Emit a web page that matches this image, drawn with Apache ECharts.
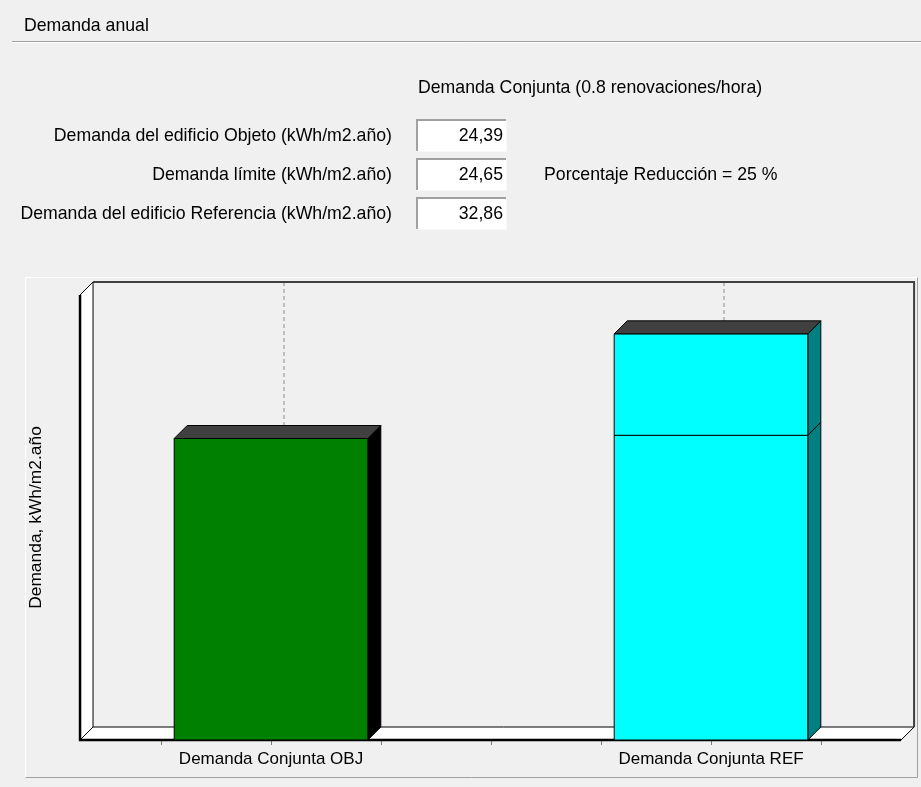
<!DOCTYPE html>
<html>
<head>
<meta charset="utf-8">
<title>Demanda anual</title>
<script src="https://cdn.jsdelivr.net/npm/echarts@6/dist/echarts.min.js"></script>
<style>
  html, body { margin: 0; padding: 0; background: #f0f0f0; }
  #chart { width: 921px; height: 787px; }
</style>
</head>
<body>
<div id="chart"></div>
<script>
// ---- data ----
const categories = ['Demanda Conjunta OBJ', 'Demanda Conjunta REF'];
const demandaObjeto = 24.39;      // kWh/m2.año
const demandaLimite = 24.65;      // kWh/m2.año
const demandaReferencia = 32.86;  // kWh/m2.año
const porcentajeReduccion = 25;   // %
const fieldLabels = [
  'Demanda del edificio Objeto (kWh/m2.año)',
  'Demanda límite (kWh/m2.año)',
  'Demanda del edificio Referencia (kWh/m2.año)'
];
const fieldValues = [demandaObjeto, demandaLimite, demandaReferencia];
const yAxisMax = 36;

// ---- drawing constants ----
const FONT = 'Liberation Sans';
const D = 13;            // 3D depth in pixels
const HALF = 0.22;       // half bar width in axis units
const X_LO = -0.434;     // frame extent (axis units)
const X_HI = 1.432;
const barColors = [
  { front: '#008000', side: '#000000', top: '#404040' },
  { front: '#00ffff', side: '#008080', top: '#404040' }
];

// stacked segments: [category index, base value, end value, isTop]
const segments = [
  [0, 0, demandaObjeto, 1],
  [1, 0, demandaLimite, 0],
  [1, demandaLimite, demandaReferencia, 1]
];

const fmt = v => v.toFixed(2).replace('.', ',');

function renderFrame(params, api) {
  const fl = api.coord([X_LO, 0]);
  const fr = api.coord([X_HI, 0]);
  const tl = api.coord([X_LO, yAxisMax]);
  const children = [];
  // dashed category lines on the back wall
  categories.forEach((c, i) => {
    const x = api.coord([i, 0])[0] + D;
    children.push({
      type: 'line',
      shape: { x1: x, y1: tl[1] - D, x2: x, y2: fl[1] - D },
      style: { stroke: '#8c8c8c', lineWidth: 1, lineDash: [4, 3] }
    });
  });
  // left wall
  children.push({
    type: 'polygon',
    shape: { points: [fl, tl, [tl[0] + D, tl[1] - D], [fl[0] + D, fl[1] - D]] },
    style: { fill: '#ffffff', stroke: '#000000', lineWidth: 1 }
  });
  // floor
  children.push({
    type: 'polygon',
    shape: { points: [fl, [fl[0] + D, fl[1] - D], [fr[0] + D, fr[1] - D], fr] },
    style: { fill: '#ffffff', stroke: '#000000', lineWidth: 1 }
  });
  // back wall top and right edge
  children.push({
    type: 'polyline',
    shape: { points: [[tl[0] + D, tl[1] - D], [fr[0] + D, tl[1] - D], [fr[0] + D, fr[1] - D]] },
    style: { stroke: '#404040', lineWidth: 2, fill: null }
  });
  // thick front edges
  children.push({
    type: 'polyline',
    shape: { points: [tl, fl, fr] },
    style: { stroke: '#000000', lineWidth: 2.5, fill: null }
  });
  return { type: 'group', children };
}

function renderBar(params, api) {
  const i = api.value(0);
  const base = api.value(1);
  const end = api.value(2);
  const isTop = api.value(3);
  const pb = api.coord([i - HALF, base]);
  const pt = api.coord([i + HALF, end]);
  const xl = pb[0], xr = pt[0], yb = pb[1], yt = pt[1];
  const c = barColors[i];
  const stroke = { stroke: '#000000', lineWidth: 1 };
  const children = [
    {
      type: 'polygon',
      shape: { points: [[xr, yt], [xr + D, yt - D], [xr + D, yb - D], [xr, yb]] },
      style: Object.assign({ fill: c.side }, stroke)
    },
    {
      type: 'rect',
      shape: { x: xl, y: yt, width: xr - xl, height: yb - yt },
      style: Object.assign({ fill: c.front }, stroke)
    }
  ];
  if (isTop) {
    children.push({
      type: 'polygon',
      shape: { points: [[xl, yt], [xl + D, yt - D], [xr + D, yt - D], [xr, yt]] },
      style: Object.assign({ fill: c.top }, stroke)
    });
  }
  return { type: 'group', children };
}

// ---- form (top area) ----
const graphics = [];
function txt(x, y, text, align, z) {
  graphics.push({
    type: 'text', x, y, z: z || 10,
    style: { text, font: '17.7px "' + FONT + '"', fill: '#000000', align: align || 'left', verticalAlign: 'middle' }
  });
}
txt(24, 26, 'Demanda anual');
graphics.push({ type: 'line', shape: { x1: 12, y1: 41.5, x2: 921, y2: 41.5 }, style: { stroke: '#a0a0a0', lineWidth: 1 } });
graphics.push({ type: 'line', shape: { x1: 12, y1: 42.5, x2: 921, y2: 42.5 }, style: { stroke: '#ffffff', lineWidth: 1 } });
txt(418, 88, 'Demanda Conjunta (0.8 renovaciones/hora)');
const rowY = [136, 175, 214];
fieldLabels.forEach((lab, k) => {
  const y = rowY[k];
  txt(392, y, lab, 'right');
  const top = y - 17, bottom = y + 16, left = 416, right = 507;
  graphics.push({ type: 'rect', shape: { x: left, y: top, width: right - left, height: bottom - top }, style: { fill: '#ffffff' } });
  graphics.push({ type: 'polyline', shape: { points: [[left + 1, bottom], [left + 1, top + 1], [right, top + 1]] }, style: { stroke: '#a0a0a0', lineWidth: 2, fill: null } });
  graphics.push({ type: 'polyline', shape: { points: [[left, bottom - 0.5], [right - 0.5, bottom - 0.5], [right - 0.5, top]] }, style: { stroke: '#f8f8f8', lineWidth: 1, fill: null } });
  txt(503, y, fmt(fieldValues[k]), 'right', 11);
});
txt(544, 175, 'Porcentaje Reducción = ' + porcentajeReduccion + ' %');
// chart panel border
graphics.push({ type: 'polyline', shape: { points: [[25.5, 777], [25.5, 277.5], [917, 277.5]] }, style: { stroke: '#ffffff', lineWidth: 1, fill: null } });
graphics.push({ type: 'polyline', shape: { points: [[25.5, 777.5], [917.5, 777.5], [917.5, 277.5]] }, style: { stroke: '#a0a0a0', lineWidth: 1, fill: null } });

const chart = echarts.init(document.getElementById('chart'));
chart.setOption({
  backgroundColor: '#f0f0f0',
  animation: false,
  textStyle: { fontFamily: FONT },
  graphic: graphics,
  grid: { left: 161, right: 100, top: 295, bottom: 47 },
  xAxis: {
    type: 'value', min: -0.25, max: 1.25, interval: 0.25,
    axisLine: { show: false },
    axisTick: { show: true, length: 5, lineStyle: { color: '#7a7a7a' } },
    splitLine: { show: false },
    axisLabel: {
      margin: 11, fontSize: 17, color: '#000000', fontFamily: FONT,
      formatter: v => (Number.isInteger(v) && categories[v]) ? categories[v] : ''
    }
  },
  yAxis: {
    type: 'value', min: 0, max: yAxisMax,
    axisLine: { show: false }, axisTick: { show: false }, axisLabel: { show: false }, splitLine: { show: false },
    name: 'Demanda, kWh/m2.año', nameLocation: 'middle', nameRotate: 90, nameGap: 116,
    nameTextStyle: { fontSize: 17.4, color: '#000000', fontFamily: FONT }
  },
  series: [
    { type: 'custom', z: 1, silent: true, renderItem: renderFrame, data: [[0, 0]], clip: false },
    { type: 'custom', z: 3, silent: true, renderItem: renderBar, data: segments, clip: false }
  ]
});
</script>
</body>
</html>
